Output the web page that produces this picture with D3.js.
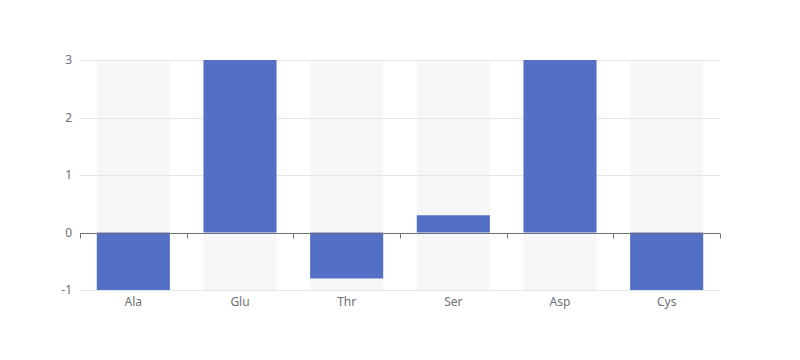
<!DOCTYPE html>
<html><head><meta charset="utf-8">
<script src="https://cdn.jsdelivr.net/npm/d3@7"></script>
<style>body{margin:0;background:#fff}svg{display:block}text{font-family:"Microsoft YaHei","Noto Sans",sans-serif}</style>
</head><body><svg id="c" width="800" height="360"></svg>
<script>
const categories = ["Ala","Glu","Thr","Ser","Asp","Cys"];
const values = [-1, 3, -0.8, 0.3, 3, -1];
const yTicks = [-1, 0, 1, 2, 3];

const svg = d3.select("#c");
const gL = 80, gR = 720, gT = 60, gB = 290;
const x = d3.scaleBand().domain(categories).range([gL, gR]);
const y = d3.scaleLinear().domain([-1, 3]).range([gB, gT]);
const bw = x.bandwidth() * 0.685;
const off = (x.bandwidth() - bw) / 2;

// background bars
svg.append("g").selectAll("rect").data(categories).join("rect")
  .attr("x", d => x(d) + off).attr("width", bw)
  .attr("y", gT).attr("height", gB - gT)
  .attr("fill", "#f7f7f7");

// grid
svg.append("g").selectAll("line").data(yTicks.filter(d => d !== 0)).join("line")
  .attr("x1", gL).attr("x2", gR)
  .attr("y1", d => Math.round(y(d)) + 0.5).attr("y2", d => Math.round(y(d)) + 0.5)
  .attr("stroke", "#e0e6f1");

// bars
const clamp = v => Math.max(-1, Math.min(3, v));
svg.append("g").selectAll("rect").data(categories).join("rect")
  .attr("x", d => x(d) + off).attr("width", bw)
  .attr("y", (d, i) => y(Math.max(0, clamp(values[i]))))
  .attr("height", (d, i) => Math.abs(y(clamp(values[i])) - y(0)))
  .attr("fill", "#5470c6");

// y labels
svg.append("g").selectAll("text").data(yTicks).join("text")
  .attr("x", 72).attr("y", d => y(d)).attr("dy", "0.35em")
  .attr("text-anchor", "end").attr("font-size", 12).attr("fill", "#6e7079")
  .text(d => d);

// x axis at zero
const z = Math.round(y(0)) + 0.5;
svg.append("line").attr("x1", gL).attr("x2", gR).attr("y1", z).attr("y2", z)
  .attr("stroke", "#6e7079");
const tickPos = categories.map(c => x(c)).concat([gR]);
svg.append("g").selectAll("line").data(tickPos).join("line")
  .attr("x1", d => Math.round(d) + 0.5).attr("x2", d => Math.round(d) + 0.5)
  .attr("y1", z).attr("y2", z + 5).attr("stroke", "#6e7079");

// x labels
svg.append("g").selectAll("text").data(categories).join("text")
  .attr("x", d => x(d) + x.bandwidth() / 2).attr("y", gB + 12).attr("dy", "0.35em")
  .attr("text-anchor", "middle").attr("font-size", 12).attr("fill", "#6e7079")
  .text(d => d);
</script></body></html>
